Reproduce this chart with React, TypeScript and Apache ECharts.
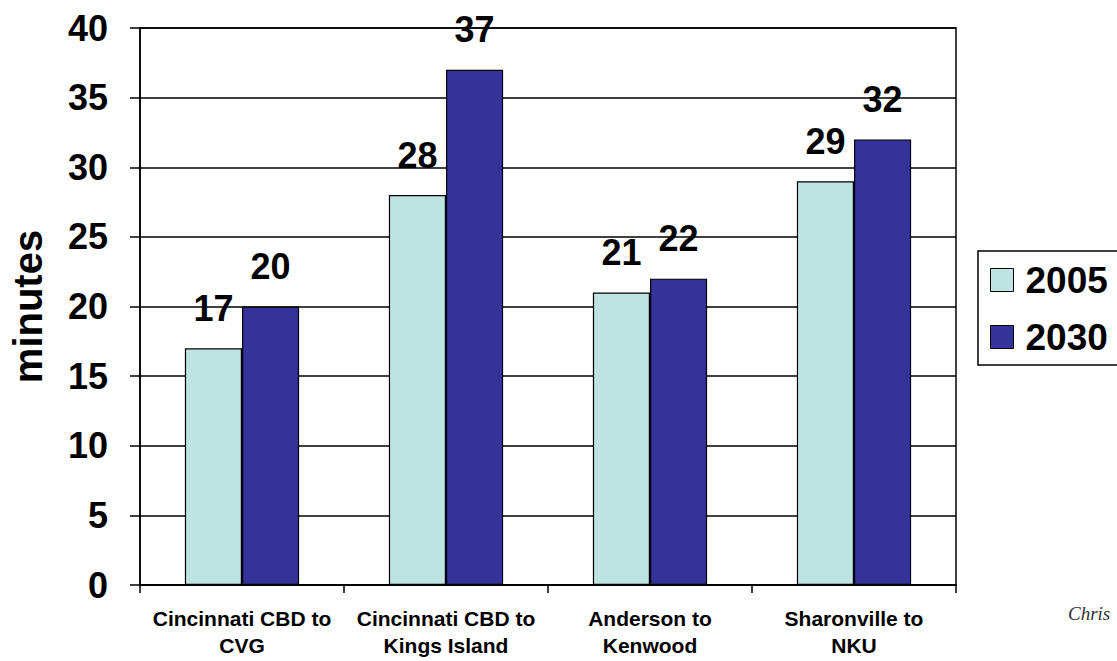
import React, { useEffect, useRef } from "react";
import * as echarts from "echarts";

const categories = [
  "Cincinnati CBD to\nCVG",
  "Cincinnati CBD to\nKings Island",
  "Anderson to\nKenwood",
  "Sharonville to\nNKU",
];
const seriesNames = ["2005", "2030"];
const values2005 = [17, 28, 21, 29];
const values2030 = [20, 37, 22, 32];
const yTicks = { min: 0, max: 40, interval: 5 };

const FONT = "'Liberation Sans', Arial, sans-serif";

export default function App() {
  const ref = useRef<HTMLDivElement>(null);
  useEffect(() => {
    if (!ref.current) return;
    const chart = echarts.init(ref.current, undefined, { renderer: "svg" });
    const labelStyle = {
      show: true,
      position: "top",
      distance: 22,
      color: "#000",
      fontSize: 36,
      fontWeight: "bold",
      fontFamily: FONT,
    };
    chart.setOption({
      animation: false,
      backgroundColor: "#fff",
      textStyle: { fontFamily: FONT },
      grid: {
        left: 137,
        top: 28,
        right: 161,
        bottom: 76,
        show: true,
        borderColor: "#000",
        borderWidth: 1.5,
        backgroundColor: "transparent",
      },
      legend: {
        data: seriesNames,
        orient: "vertical",
        left: 978,
        top: 251,
        padding: [9, 10, 8, 12],
        itemGap: 17,
        itemWidth: 23,
        itemHeight: 23,
        icon: "rect",
        itemStyle: { borderColor: "#000", borderWidth: 1 },
        textStyle: {
          fontSize: 37,
          fontWeight: "bold",
          color: "#000",
          fontFamily: FONT,
          lineHeight: 40,
          padding: [0, 0, 0, 7],
        },
      },
      xAxis: {
        type: "category",
        data: categories,
        boundaryGap: true,
        axisLine: { lineStyle: { color: "#000", width: 1.5 } },
        axisTick: { show: true, length: 8, alignWithLabel: false, lineStyle: { color: "#000", width: 1.5 } },
        axisLabel: {
          color: "#000",
          fontSize: 21,
          fontWeight: "bold",
          fontFamily: FONT,
          lineHeight: 27,
          margin: 20,
          interval: 0,
        },
      },
      yAxis: {
        type: "value",
        min: yTicks.min,
        max: yTicks.max,
        interval: yTicks.interval,
        name: "minutes",
        nameLocation: "middle",
        nameGap: 92,
        nameRotate: 90,
        nameTextStyle: {
          color: "#000",
          fontSize: 40,
          fontWeight: "bold",
          fontFamily: FONT,
        },
        axisLine: { show: true, lineStyle: { color: "#000", width: 1.5 } },
        axisTick: { show: true, length: 10, lineStyle: { color: "#000", width: 1.5 } },
        axisLabel: {
          color: "#000",
          fontSize: 36,
          fontWeight: "bold",
          fontFamily: FONT,
          margin: 32,
        },
        splitLine: { show: true, lineStyle: { color: "#000", width: 1.5 } },
      },
      series: [
        {
          name: seriesNames[0],
          type: "bar",
          data: values2005,
          barWidth: "28%",
          barGap: "0%",
          itemStyle: { color: "#BEE3E3", borderColor: "#000", borderWidth: 1.2 },
          label: labelStyle,
        },
        {
          name: seriesNames[1],
          type: "bar",
          data: values2030,
          barWidth: "28%",
          barGap: "0%",
          itemStyle: { color: "#333399", borderColor: "#000", borderWidth: 1.2 },
          label: labelStyle,
        },
      ],
      graphic: [
        {
          type: "polyline",
          shape: { points: [[1140, 251], [978, 251], [978, 365], [1140, 365]] },
          style: { fill: "none", stroke: "#000", lineWidth: 1.5 },
        },
        {
          type: "text",
          left: 1068,
          top: 604,
          style: {
            text: "Chris",
            font: "italic 19px 'Liberation Serif', serif",
            fill: "#333",
          },
        },
      ],
    });
    return () => chart.dispose();
  }, []);
  return (
    <div
      ref={ref}
      style={{ position: "fixed", left: 0, top: 0, width: 1117, height: 661 }}
    />
  );
}
